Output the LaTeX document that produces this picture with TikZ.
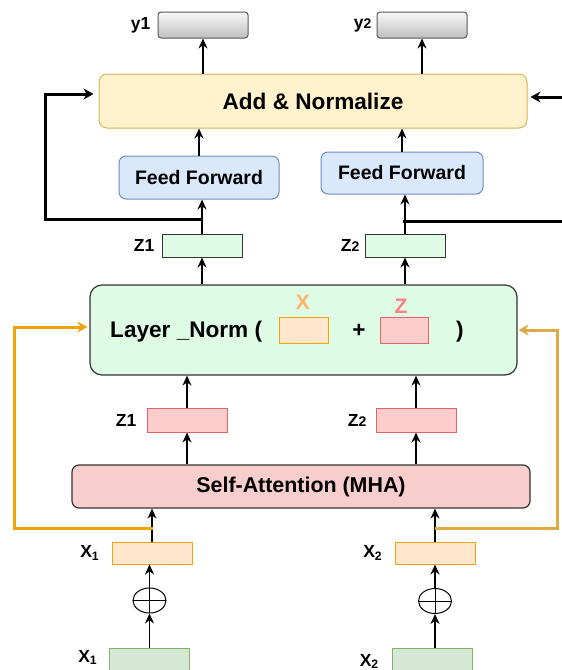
\documentclass[tikz,border=0pt]{standalone}
\usepackage{fontspec}
\setmainfont{Liberation Sans}
\usetikzlibrary{arrows.meta,shapes.geometric}

\definecolor{addfill}{HTML}{FFF2CC}
\definecolor{adddraw}{HTML}{D6B656}
\definecolor{fffill}{HTML}{DAE8FC}
\definecolor{ffdraw}{HTML}{6C8EBF}
\definecolor{lnfill}{HTML}{DDFBE5}
\definecolor{safill}{HTML}{F8CECC}
\definecolor{redfill}{HTML}{FFCCCC}
\definecolor{reddraw}{HTML}{E06666}
\definecolor{orfill}{HTML}{FFE6CC}
\definecolor{ordraw}{HTML}{F0A30A}
\definecolor{gfill}{HTML}{D5E8D4}
\definecolor{gdraw}{HTML}{82B366}
\definecolor{xlab}{HTML}{FFB366}
\definecolor{zlab}{HTML}{FF8080}
\definecolor{goldline}{HTML}{DDAA44}

\begin{document}
\begin{tikzpicture}[>=Stealth, x=1pt, y=-1pt,
  every node/.style={inner sep=0pt},
  bigtext/.style={font=\fontsize{22.6}{25}\selectfont\bfseries},
  lbl/.style={font=\fontsize{17.5}{19}\selectfont\bfseries},
  outbox/.style={draw=gray!70!black, top color=gray!5, bottom color=gray!50,
    rounded corners=3pt, minimum width=90pt, minimum height=26pt, line width=1pt},
  ffbox/.style={draw=ffdraw, fill=fffill, rounded corners=7pt, line width=1pt,
    font=\fontsize{19.5}{22}\selectfont\bfseries},
  vecg/.style={draw=black!80, fill=lnfill, minimum width=80pt, minimum height=23pt, line width=1pt},
  vecr/.style={draw=reddraw, fill=redfill, minimum width=80pt, minimum height=24pt, line width=1pt},
  veco/.style={draw=ordraw, fill=orfill, minimum width=80pt, minimum height=22pt, line width=1pt},
  vecin/.style={draw=gdraw, fill=gfill, minimum width=80pt, minimum height=44pt, line width=1pt},
  arr/.style={-{Stealth[length=10pt,width=9pt]}, line width=1.5pt},
  fbline/.style={-{Stealth[length=10pt,width=11pt]}, line width=3pt},
  plusnode/.style={draw, ellipse, minimum width=33pt, minimum height=25pt, line width=1pt,
    path picture={\draw[line width=1pt] (path picture bounding box.north) -- (path picture bounding box.south)
      (path picture bounding box.west) -- (path picture bounding box.east);}}]
  \clip (0,0) rectangle (562,670);

  % outputs
  \node[outbox] (out1) at (203,25) {};
  \node[outbox] (out2) at (422,25) {};
  \node[lbl, left=7pt] (ly1) at (out1.west) {y1};
  \node[lbl, left=5pt] (ly2) at (out2.west) {y{\fontsize{14}{14}\selectfont 2}};

  \node[draw=adddraw, fill=addfill, rounded corners=8pt, line width=1pt,
    minimum width=428pt, minimum height=54pt, bigtext] (addnorm) at (313,101) {Add \& Normalize};

  \node[ffbox, minimum width=160pt, minimum height=43pt] (ff1) at (199,177.5) {Feed Forward};
  \node[ffbox, minimum width=162pt, minimum height=42pt] (ff2) at (402,173) {Feed Forward};

  \node[vecg] (zg1) at (202,245.5) {};
  \node[vecg] (zg2) at (405,245.5) {};
  \node[lbl, left=7pt] (lzg1) at (zg1.west) {Z1};
  \node[lbl, left=5pt] (lzg2) at (zg2.west) {Z{\fontsize{14}{14}\selectfont 2}};

  % layer norm
  \node[draw=black!80, fill=lnfill, rounded corners=12pt, line width=1.2pt,
    minimum width=427pt, minimum height=90pt] (ln) at (303.5,330) {};
  \node[bigtext, anchor=west] (lntext) at (110,332) {Layer \_Norm (};
  \node[draw=ordraw, fill=orfill, minimum width=49pt, minimum height=26pt, line width=1pt] (xin) at (303.5,330) {};
  \node[draw=reddraw, fill=redfill, minimum width=48pt, minimum height=26pt, line width=1pt] (zin) at (404,330) {};
  \node[font=\fontsize{21}{23}\selectfont\bfseries, text=xlab] (xlabel) at (303,302) {X};
  \node[font=\fontsize{21}{23}\selectfont\bfseries, text=zlab] (zlabel) at (401,306) {Z};
  \node[bigtext] (plus) at (359,331) {+};
  \node[bigtext] (rpar) at (460,332) {)};

  \node[vecr] (zr1) at (187,420) {};
  \node[vecr] (zr2) at (416,420) {};
  \node[lbl, left=10pt] (lzr1) at (zr1.west) {Z1};
  \node[lbl, left=9pt] (lzr2) at (zr2.west) {Z{\fontsize{14}{14}\selectfont 2}};

  \node[draw=black!80, fill=safill, rounded corners=7pt, line width=1.2pt,
    minimum width=458pt, minimum height=43pt, font=\fontsize{21.4}{24}\selectfont\bfseries] (sa) at (301,486.5) {Self-Attention (MHA)};

  % inputs
  \node[veco] (xo1) at (152,553) {};
  \node[veco] (xo2) at (435,553) {};
  \node[lbl, left=12pt] (lxo1) at (xo1.west) {X\textsubscript{1}};
  \node[lbl, left=12pt] (lxo2) at (xo2.west) {X\textsubscript{2}};

  \node[plusnode] (op1) at (149.5,600.5) {};
  \node[plusnode] (op2) at (435,601) {};

  \node[vecin] (xg1) at (149,670) {};
  \node[vecin] (xg2) at (432.5,670) {};
  \node[lbl, left=11pt] (lxg1) at ([yshift=-10pt]xg1.north west) {X\textsubscript{1}};
  \node[lbl, left=13pt] (lxg2) at ([yshift=-14pt]xg2.north west) {X\textsubscript{2}};

  % connectors
  \draw[arr] (out1.south |- addnorm.north) -- (out1.south);
  \draw[arr] (out2.south |- addnorm.north) -- (out2.south);
  \draw[arr] (ff1.north) -- (ff1.north |- addnorm.south);
  \draw[arr] (ff2.north) -- (ff2.north |- addnorm.south);
  \draw[arr] (zg1.north) -- (zg1.north |- ff1.south);
  \draw[arr] (zg2.north) -- (zg2.north |- ff2.south);
  \draw[arr] (zg1.south |- ln.north) -- (zg1.south);
  \draw[arr] (zg2.south |- ln.north) -- (zg2.south);
  \draw[arr] (zr1.north) -- (zr1.north |- ln.south);
  \draw[arr] (zr2.north) -- (zr2.north |- ln.south);
  \draw[arr] (zr1.south |- sa.north) -- (zr1.south);
  \draw[arr] (zr2.south |- sa.north) -- (zr2.south);
  \draw[arr] (xo1.north) -- (xo1.north |- sa.south);
  \draw[arr] (xo2.north) -- (xo2.north |- sa.south);
  \draw[arr] (op1.north) -- (op1.north |- xo1.south);
  \draw[arr] (op2.north) -- (op2.north |- xo2.south);
  \draw[arr] (op1.south |- xg1.north) -- (op1.south);
  \draw[arr] (op2.south |- xg2.north) -- (op2.south);

  % residual lines
  \coordinate (j1) at (202,219);
  \coordinate (j2) at (403,221);
  \coordinate (j3) at (153,528);
  \coordinate (j4) at (435,528);
  \draw[fbline, shorten >=5pt] (j1) -- (45,219) -- (45,94) -- (addnorm.west |- 0,94);
  \draw[fbline, shorten >=3pt] (j2) -- (575,221) -- (575,97) -- (addnorm.east |- 0,97);
  \draw[fbline, color=ordraw, shorten >=2pt] (j3) -- (14,528) -- (14,327) -- (ln.west |- 0,327);
  \draw[fbline, color=goldline, shorten >=1pt] (j4) -- (557,528) -- (557,330) -- (ln.east |- 0,330);
\end{tikzpicture}
\end{document}
